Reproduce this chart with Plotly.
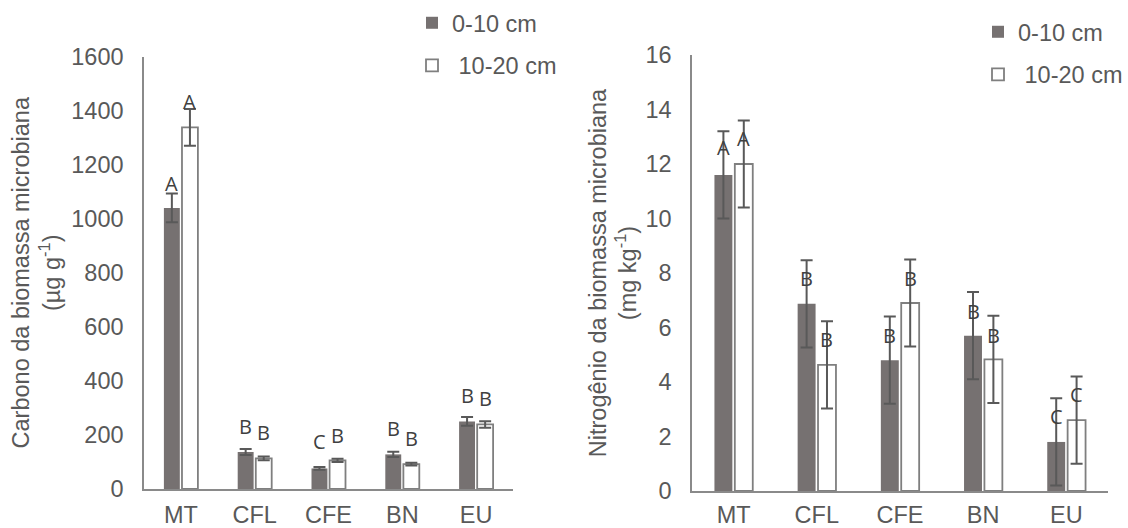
import plotly.graph_objects as go

# Treatments (x categories)
categories = ["MT", "CFL", "CFE", "BN", "EU"]
depths = ["0-10 cm", "10-20 cm"]

# Microbial biomass carbon (µg g-1)
carbon_0_10 = [1040, 137, 76, 128, 250]
carbon_0_10_err = [53, 11, 5, 10, 16]
carbon_10_20 = [1338, 113, 106, 92, 239]
carbon_10_20_err = [68, 7, 6, 5, 12]
carbon_letters_0_10 = ["A", "B", "C", "B", "B"]
carbon_letters_10_20 = ["A", "B", "B", "B", "B"]
carbon_letter_y_0_10 = [1130, 233, 174, 222, 345]
carbon_letter_y_10_20 = [1434, 208, 199, 186, 335]

# Microbial biomass nitrogen (mg kg-1)
nitrogen_0_10 = [11.6, 6.87, 4.8, 5.7, 1.8]
nitrogen_0_10_err = [1.6, 1.6, 1.6, 1.6, 1.6]
nitrogen_10_20 = [12.0, 4.63, 6.9, 4.83, 2.6]
nitrogen_10_20_err = [1.6, 1.6, 1.6, 1.6, 1.6]
nitrogen_letters_0_10 = ["A", "B", "B", "B", "C"]
nitrogen_letters_10_20 = ["A", "B", "B", "B", "C"]
nitrogen_letter_y_0_10 = [12.6, 7.8, 5.7, 6.6, 2.75]
nitrogen_letter_y_10_20 = [12.95, 5.55, 7.8, 5.7, 3.55]

# Styling
DARK = "#767171"
OUTLINE = "#7f7f7f"
ERR = "#595959"
TEXT = "#595959"
AXIS = "#8a8a8a"
FONT = "Liberation Sans, Arial, sans-serif"
FS = 23.5
BARGAP = 0.51
BARGROUPGAP = 0.12

fig = go.Figure()


def add_pair(xa, ya, v1, e1, v2, e2, legend):
    fig.add_trace(go.Bar(
        x=categories, y=v1, name=depths[0], xaxis=xa, yaxis=ya,
        marker=dict(color=DARK, line=dict(color=DARK, width=0)),
        error_y=dict(type="data", array=e1, color=ERR, thickness=2, width=6),
        legend=legend, legendgroup=legend + "a",
    ))
    fig.add_trace(go.Bar(
        x=categories, y=v2, name="\u00a0" + depths[1], xaxis=xa, yaxis=ya,
        marker=dict(color="white", line=dict(color=OUTLINE, width=1.8)),
        error_y=dict(type="data", array=e2, color=ERR, thickness=2, width=6),
        legend=legend, legendgroup=legend + "b",
    ))


add_pair("x", "y", carbon_0_10, carbon_0_10_err, carbon_10_20, carbon_10_20_err, "legend")
add_pair("x2", "y2", nitrogen_0_10, nitrogen_0_10_err, nitrogen_10_20, nitrogen_10_20_err, "legend2")

# Significance letters above each bar, centred on the bar within its group
half_slot = (1 - BARGAP) / 4
annotations = []


def add_letters(xref, yref, letters, ys, sign):
    for i, (lt, yv) in enumerate(zip(letters, ys)):
        annotations.append(dict(
            x=i + sign * half_slot, y=yv, xref=xref, yref=yref, text=lt,
            showarrow=False, xanchor="center", yanchor="middle",
            font=dict(family="Open Sans, sans-serif", size=20, color="#404040"),
        ))


add_letters("x", "y", carbon_letters_0_10, carbon_letter_y_0_10, -1)
add_letters("x", "y", carbon_letters_10_20, carbon_letter_y_10_20, 1)
add_letters("x2", "y2", nitrogen_letters_0_10, nitrogen_letter_y_0_10, -1)
add_letters("x2", "y2", nitrogen_letters_10_20, nitrogen_letter_y_10_20, 1)

W, H = 1128, 528

xcommon = dict(
    type="category", showgrid=False, zeroline=False, showline=True,
    linecolor=AXIS, linewidth=1.5, ticks="", tickfont=dict(family=FONT, size=FS, color=TEXT),
    range=[-0.5, 4.5], fixedrange=True,
)
ycommon = dict(
    showgrid=False, zeroline=False, showline=True, linecolor=AXIS, linewidth=1.5,
    ticks="", tickfont=dict(family=FONT, size=FS, color=TEXT), ticklabelstandoff=14,
    fixedrange=True,
)

legend_common = dict(
    font=dict(family=FONT, size=FS, color=TEXT), bgcolor="rgba(0,0,0,0)",
    borderwidth=0, xanchor="left", yanchor="top", tracegroupgap=9,
    itemclick=False, itemdoubleclick=False,
)

fig.update_layout(
    width=W, height=H, margin=dict(l=0, r=0, t=0, b=0, autoexpand=False),
    paper_bgcolor="white", plot_bgcolor="white",
    barmode="group", bargap=BARGAP, bargroupgap=BARGROUPGAP,
    showlegend=True,
    xaxis=dict(domain=[144 / W, 513 / W], anchor="y", ticklabelstandoff=4, **xcommon),
    yaxis=dict(
        domain=[1 - 489 / H, 1 - 56.5 / H], anchor="x", range=[0, 1600], dtick=200,
        title=dict(text="Carbono da biomassa microbiana<br>(µg g<sup>-1</sup>)",
                   font=dict(family=FONT, size=FS, color=TEXT), standoff=4),
        **ycommon,
    ),
    xaxis2=dict(domain=[692 / W, 1108 / W], anchor="y2", ticklabelstandoff=2, **xcommon),
    yaxis2=dict(
        domain=[1 - 491 / H, 1 - 55 / H], anchor="x2", range=[0, 16], dtick=2,
        title=dict(text="Nitrogênio da biomassa microbiana<br>(mg kg<sup>-1</sup>)",
                   font=dict(family=FONT, size=FS, color=TEXT), standoff=2),
        **ycommon,
    ),
    legend=dict(x=412 / W, y=1 - 1 / H, **legend_common),
    legend2=dict(x=978 / W, y=1 - 10 / H, **legend_common),
    annotations=annotations,
)

fig.write_html("out.html")
